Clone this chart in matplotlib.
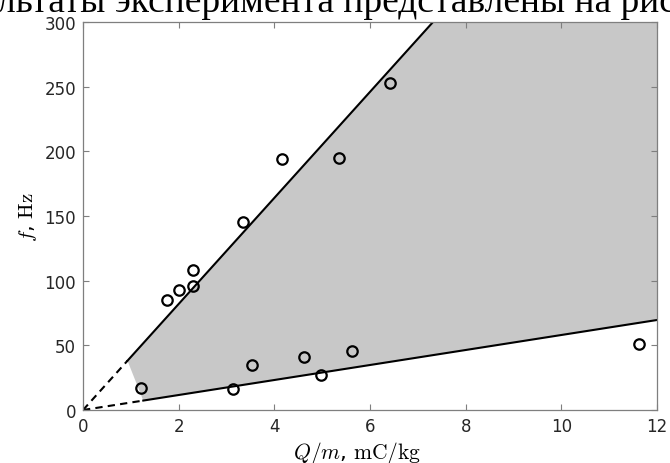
import numpy as np
import matplotlib
matplotlib.use("Agg")
from matplotlib import pyplot as plt

plt.rcParams["mathtext.fontset"] = "cm"

# measured points, Q/m in mC/kg and f in Hz
qm_pts = [1.21, 1.76, 2.01, 2.29, 2.29, 3.35, 4.17, 5.35, 6.42,
          3.13, 3.54, 4.61, 4.97, 5.62, 11.62]
f_pts = [17, 85, 93, 108, 96, 145, 194, 195, 253,
         16, 35, 41, 27, 46, 51]

# bounding lines f = k * Q/m
k_upper = 41.0
k_lower = 5.8
# where the solid part of each line starts
q_upper_start = 0.93
q_lower_start = 1.26

x_max = 12
y_max = 300

fig = plt.figure(figsize=(6.7, 4.64), dpi=100)
ax = fig.add_axes([0.1239, 0.1142, 0.8567, 0.8362])

# shaded region between the two lines
q_top = y_max / k_upper
poly_x = [q_upper_start, q_top, x_max, x_max, q_lower_start]
poly_y = [k_upper * q_upper_start, y_max, y_max, k_lower * x_max, k_lower * q_lower_start]
ax.fill(poly_x, poly_y, color="#c8c8c8", lw=0, zorder=1)

# upper line
ax.plot([0, q_upper_start], [0, k_upper * q_upper_start], "k--", lw=1.5, dashes=(3.5, 2.5), zorder=2)
ax.plot([q_upper_start, q_top], [k_upper * q_upper_start, y_max], "k-", lw=1.5, zorder=2)
# lower line
ax.plot([0, q_lower_start], [0, k_lower * q_lower_start], "k--", lw=1.5, dashes=(3.5, 2.5), zorder=2)
ax.plot([q_lower_start, x_max], [k_lower * q_lower_start, k_lower * x_max], "k-", lw=1.5, zorder=2)

ax.plot(qm_pts, f_pts, "o", ms=7.5, mfc="none", mec="k", mew=1.6, zorder=3)

ax.set_xlim(0, x_max)
ax.set_ylim(0, y_max)
ax.set_xticks([0, 2, 4, 6, 8, 10, 12])
ax.set_yticks([0, 50, 100, 150, 200, 250, 300])
ax.tick_params(direction="in", top=True, right=True, length=4, width=0.8,
               color="#7f7f7f", labelsize=12, labelcolor="#262626", pad=5)
for s in ax.spines.values():
    s.set_color("#7f7f7f")
    s.set_linewidth(0.9)

ax.set_xlabel(r"$Q/m$, $\mathrm{mC/kg}$", fontsize=15.5, labelpad=1)
ax.set_ylabel(r"$f$, $\mathrm{Hz}$", fontsize=15, labelpad=4)
ax.xaxis.set_label_coords(0.477, -0.076)

# line of body text above the figure
fig.text(-0.005, 1 - 12 / 464, "льтаты эксперимента представлены на рис",
         family="Liberation Serif", fontsize=27, ha="left", va="baseline")

fig.savefig("out.png", dpi=100)
